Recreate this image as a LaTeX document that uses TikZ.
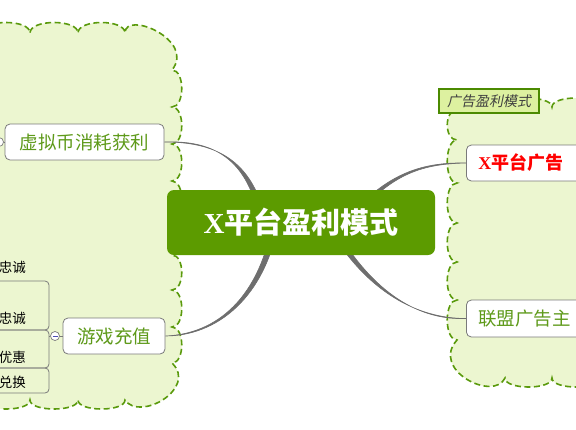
\documentclass[tikz,border=0pt]{standalone}
\usepackage{fontspec}
\setmainfont{Liberation Serif}
\newfontfamily\cjk{Noto Sans CJK SC}
\newfontfamily\cjkit[FakeSlant=0.2]{Noto Sans CJK SC}
\usetikzlibrary{calc,backgrounds}
\definecolor{cloudfill}{HTML}{ECF6D0}
\definecolor{cloudline}{HTML}{5A9A0C}
\definecolor{rootfill}{HTML}{5C9B00}
\definecolor{leaf}{HTML}{5E9A1A}
\definecolor{branch}{HTML}{6E6E6E}
\definecolor{boxline}{HTML}{7A7A7A}
\definecolor{tagfill}{HTML}{DDF1A0}
\definecolor{tagline}{HTML}{4B8A00}

\begin{document}
\begin{tikzpicture}[x=1pt,y=-1pt,
  cloud/.style={fill=cloudfill,draw=cloudline,line width=1.6pt,dash pattern=on 6pt off 3.5pt},
  rootbox/.style={fill=rootfill,rounded corners=7pt,minimum width=268pt,minimum height=65pt,
    text=white,font=\bfseries\fontsize{29}{30}\selectfont},
  leafbox/.style={draw=boxline,fill=white,rounded corners=5pt,line width=0.8pt,
    text=leaf,font=\cjk\fontsize{18.5}{19}\selectfont},
  subbox/.style={draw=boxline,rounded corners=4pt,line width=0.8pt},
  subtext/.style={anchor=east,font=\cjk\fontsize{13.5}{14}\selectfont,inner sep=0pt},
  knob/.style={circle,draw=boxline,fill=white,line width=0.7pt,minimum size=9pt,inner sep=0pt},
  twig/.style={fill=branch,draw=branch,line width=0.6pt}]

  \useasboundingbox (0,0) rectangle (576,429);
  \clip (0,0) rectangle (576,429);

  % nodes
  \node[rootbox] (root) at (301,222.5) {X{\cjk 平台盈利模式}};
  \node[leafbox,minimum width=159pt,minimum height=36pt] (vb) at (84.5,142) {虚拟币消耗获利};
  \node[leafbox,minimum width=102pt,minimum height=36pt] (gc) at (114,336) {游戏充值};
  \node[leafbox,anchor=west,text width=126pt,inner xsep=12pt,align=left,minimum height=36pt,
    text=red,font=\bfseries\fontsize{18}{19}\selectfont] (xa) at (466,163) {X{\cjk 平台广告}};
  \node[leafbox,anchor=west,text width=126pt,inner xsep=12pt,align=left,minimum height=37pt] (lm) at (466,318.5) {联盟广告主};

  \begin{scope}[on background layer]
  % left cloud
  \path[cloud] (-18,33)
    \foreach \x [remember=\x as \px (initially -18)] in {30,78,125}
      { .. controls (\px,19) and (\x,19) .. (\x,33) }
    .. controls (125,10) and (196,40) .. (172,70)
    \foreach \y [remember=\y as \py (initially 70)] in {107,144,181,218,255,290,327,363}
      { .. controls (185,\py) and (185,\y) .. (172,\y) }
    .. controls (198,388) and (140,422) .. (125,400)
    \foreach \x [remember=\x as \px (initially 125)] in {78,30,-18}
      { .. controls (\px,412) and (\x,412) .. (\x,400) }
    -- cycle;

  % right cloud
  \path[cloud] (452,110)
    \foreach \x [remember=\x as \px (initially 452)] in {500,552,600}
      { .. controls (\px,95) and (\x,95) .. (\x,107) }
    -- (620,107) -- (620,378) -- (600,378)
    \foreach \x [remember=\x as \px (initially 600)] in {552,505}
      { .. controls (\px,390) and (\x,390) .. (\x,378) }
    .. controls (494,402) and (430,370) .. (457,340)
    \foreach \y [remember=\y as \py (initially 340)] in {300,262,223,183,140,110}
      { .. controls (444,\py) and (444,\y) .. (457,\y) }
    -- cycle;

  % branches
  \coordinate (r1a) at ($(root.center)+(-39,12)$);
  \coordinate (r1b) at ($(root.center)+(-33,12)$);
  \coordinate (r2a) at ($(root.center)+(-27,-8)$);
  \coordinate (r2b) at ($(root.center)+(-21,-8)$);
  \coordinate (r3a) at ($(root.center)+(42,2)$);
  \coordinate (r3b) at ($(root.center)+(48,2)$);
  \coordinate (r4a) at ($(root.center)+(26,2)$);
  \coordinate (r4b) at ($(root.center)+(32,2)$);
  \path[twig] (vb.east) .. controls +(51,-2) and +(-10,-75) .. (r1a)
    -- (r1b) .. controls +(-10,-75) and +(51,0) .. (vb.east);
  \path[twig] (gc.east) .. controls +(50,-2) and +(-13,85) .. (r2a)
    -- (r2b) .. controls +(-13,85) and +(50,0) .. (gc.east);
  \path[twig] (xa.west) .. controls +(-46,-1) and +(40,-50) .. (r3a)
    -- (r3b) .. controls +(40,-50) and +(-46,1) .. (xa.west);
  \path[twig] (lm.west) .. controls +(-46,0) and +(40,70) .. (r4a)
    -- (r4b) .. controls +(40,70) and +(-46,2) .. (lm.west);
  \end{scope}

  \node[draw=tagline,fill=tagfill,line width=1.6pt,minimum width=100pt,minimum height=24pt,inner sep=1pt,
    text=black!75,font=\cjkit\fontsize{14}{15}\selectfont] (tag) at (489,101) {广告盈利模式};

  % sub topics on the left
  \draw[subbox] (-20,281) rectangle (49,330);
  \draw[subbox] (-20,330) rectangle (49,368);
  \draw[subbox] (-20,368) rectangle (49,393);
  \node[subtext] (s0) at (26,267) {忠诚};
  \node[subtext] (s1) at (26,318) {忠诚};
  \node[subtext] (s2) at (26,357) {优惠};
  \node[subtext] (s3) at (26,382) {兑换};

  % collapse knobs
  \node[knob] (k1) at (-1,142) {};
  \node[knob] (k2) at (55,336) {};
  \draw[boxline,line width=0.7pt] (k1) -- (vb.west);
  \draw[boxline,line width=0.7pt] (k2) -- (gc.west);
  \draw[boxline,line width=0.7pt] (k2) -- (49,336);
  \draw[blue!40!gray,line width=0.8pt] ($(k2)+(-2.5,0)$) -- ($(k2)+(2.5,0)$);
\end{tikzpicture}
\end{document}
